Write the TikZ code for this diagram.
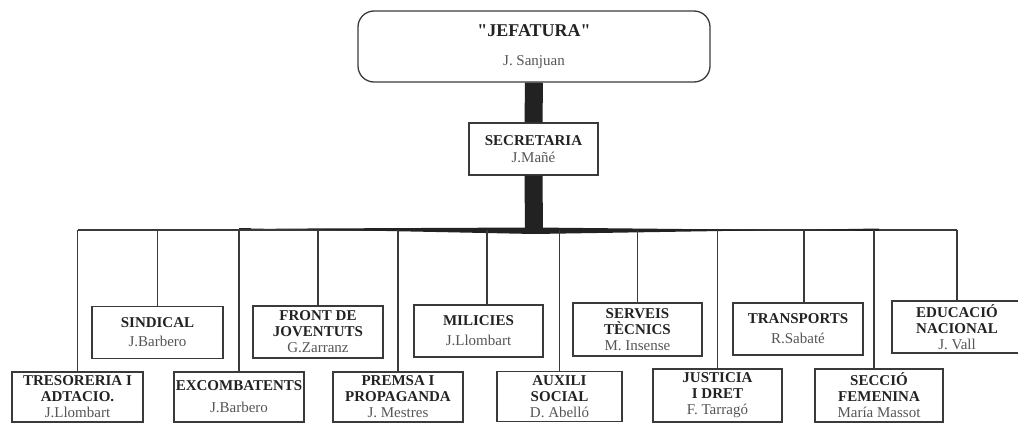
\documentclass[tikz,border=0pt]{standalone}
\usepackage{fontspec}
\setmainfont{Liberation Serif}
\newfontfamily\qfont{Liberation Serif}[Ligatures=ResetAll]
\definecolor{ink}{HTML}{222222}
\definecolor{frame}{HTML}{3A3A3A}
\definecolor{namec}{HTML}{555555}
\newcommand{\bxh}[1]{\textbf{#1}}
\newcommand{\bxn}[1]{\textcolor{namec}{#1}}
\newcommand{\sq}{{\qfont\bfseries"}}
\begin{document}
\begin{tikzpicture}[x=1pt,y=-1pt,
  box/.style={draw=frame, line width=1.3pt, inner sep=0pt, align=center,
    font=\fontsize{15}{16}\selectfont, text=ink},
  upbox/.style={box, minimum height=52pt},
  lowbox/.style={box, minimum height=50pt},
  link/.style={draw=frame, line width=1.3pt},
  stem/.style={draw=ink, line width=18pt}]
\useasboundingbox (0,0) rectangle (1018,423);
\clip (0,0) rectangle (1018,423);
% top
\node[box, rounded corners=16pt, minimum width=352pt, minimum height=71pt] (jef) at (534,46.5)
  {{\fontsize{18}{20}\selectfont\bxh{\sq JEFATURA\sq}}\\[13pt]\bxn{J. Sanjuan}};
\node[box, minimum width=129pt, minimum height=52pt] (sec) at (533.5,149)
  {\bxh{SECRETARIA}\\[1pt]\bxn{J.Mañé}};
% upper row
\node[upbox, minimum width=131pt] (sind) at (157.5,332.5) {\bxh{SINDICAL}\\[3pt]\bxn{J.Barbero}};
\node[upbox, minimum width=130pt] (front) at (318,332) {\bxh{FRONT DE}\\\bxh{JOVENTUTS}\\\bxn{G.Zarranz}};
\node[upbox, minimum width=129pt] (mil) at (478.5,331) {\bxh{MILICIES}\\[4pt]\bxn{J.Llombart}};
\node[upbox, minimum width=129pt, minimum height=53pt] (serv) at (637.5,329.5) {\bxh{SERVEIS}\\\bxh{TÈCNICS}\\\bxn{M. Insense}};
\node[upbox, minimum width=130pt] (trans) at (798,329) {\bxh{TRANSPORTS}\\[4pt]\bxn{R.Sabaté}};
\node[upbox, minimum width=130pt] (educ) at (957,327) {\bxh{EDUCACIÓ}\\\bxh{NACIONAL}\\\bxn{J. Vall}};
% lower row
\node[lowbox, minimum width=131pt] (tres) at (77.5,397) {\bxh{TRESORERIA I}\\\bxh{ADTACIO.}\\\bxn{J.Llombart}};
\node[lowbox, minimum width=130pt] (exc) at (239,397) {\bxh{EXCOMBATENTS}\\[6pt]\bxn{J.Barbero}};
\node[lowbox, minimum width=130pt] (prem) at (398,397) {\bxh{PREMSA I}\\\bxh{PROPAGANDA}\\\bxn{J. Mestres}};
\node[lowbox, minimum width=125pt] (aux) at (559.5,396.5) {\bxh{AUXILI}\\\bxh{SOCIAL}\\\bxn{D. Abelló}};
\node[lowbox, minimum width=129pt, minimum height=53pt] (just) at (717.5,395.5) {\bxh{JUSTICIA}\\\bxh{I DRET}\\\bxn{F. Tarragó}};
\node[lowbox, minimum width=128pt, minimum height=53pt] (secc) at (879,395.5) {\bxh{SECCIÓ}\\\bxh{FEMENINA}\\\bxn{María Massot}};
% trunk
\coordinate (bus) at (534,230);
\draw[stem] (jef.south) -- (sec.north);
\draw[stem] (sec.south) -- ([yshift=-1pt]bus);
% bus
\draw[link] (tres.north |- bus) -- (educ.north |- bus);
\fill[ink] (exc.north |- bus) ++(0,-1.2) -- (534,227.5) -- ([yshift=-1pt]secc.north |- bus) -- ([yshift=1.5pt]secc.north |- bus) -- (534,234) -- ([yshift=2pt]exc.north |- bus) -- cycle;
% drops
\foreach \n in {tres,sind,exc,front,prem,aux,serv,just,educ}
  \draw[link] (\n.north) -- (\n.north |- bus);
\draw[link] ([xshift=8.5pt]mil.north) -- ([xshift=8.5pt]mil.north |- bus);
\draw[link] ([xshift=6pt]trans.north) -- ([xshift=6pt]trans.north |- bus);
\draw[link] ([xshift=-5pt]secc.north) -- ([xshift=-5pt]secc.north |- bus);
\end{tikzpicture}
\end{document}
